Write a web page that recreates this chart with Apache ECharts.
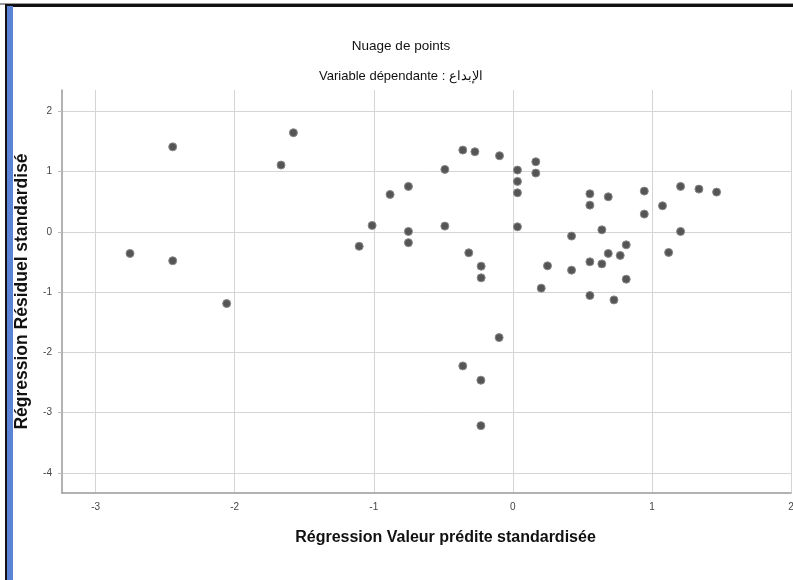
<!DOCTYPE html>
<html>
<head>
<meta charset="utf-8">
<script src="https://cdn.jsdelivr.net/npm/echarts@6/dist/echarts.min.js"></script>
<style>
html,body{margin:0;padding:0;background:#fff;}
#chart{width:793px;height:580px;}
</style>
</head>
<body>
<div id="chart"></div>
<script>
// Predicted standardized values (x) and standardized residuals (y)
const predicted = [
  -2.446, -1.578, -1.667, -2.753, -2.446, -2.058, -1.105,
  -1.012, -0.883, -0.751, -0.751, -0.751, -0.489, -0.489, -0.36, -0.273, -0.096,
  -0.317, -0.228, -0.228, 0.033, 0.033, 0.033, 0.033, 0.165, 0.165, 0.249, 0.204,
  0.422, 0.422, 0.554, 0.554, 0.686, 0.64, 0.554, 0.64, 0.686, 0.772, 0.815, 0.815,
  0.554, 0.727,
  0.945, 0.945, 1.076, 1.206, 1.338, 1.465, 1.206, 1.12,
  -0.099, -0.36, -0.23, -0.23
];
const residuals = [
  1.41, 1.645, 1.108, -0.359, -0.48, -1.19, -0.24,
  0.106, 0.62, 0.754, 0.006, -0.18, 1.036, 0.095, 1.357, 1.329, 1.263,
  -0.348, -0.57, -0.764, 1.025, 0.837, 0.648, 0.083, 1.163, 0.975, -0.565, -0.935,
  -0.071, -0.636, 0.631, 0.443, 0.581, 0.033, -0.498, -0.532, -0.359, -0.392, -0.216, -0.786,
  -1.057, -1.13,
  0.676, 0.294, 0.432, 0.754, 0.709, 0.659, 0.006, -0.343,
  -1.755, -2.226, -2.463, -3.217
];
const xTicks = [-3, -2, -1, 0, 1, 2];
const yTicks = [-4, -3, -2, -1, 0, 1, 2];

const titleText = 'Nuage de points';
const subtitleText = 'Variable dépendante : الإبداع';
const xName = 'Régression Valeur prédite standardisée';
const yName = 'Régression Résiduel standardisé';

const points = predicted.map((v, i) => [v, residuals[i]]);

const chart = echarts.init(document.getElementById('chart'), null, {renderer: 'canvas'});
const font = 'Liberation Sans, Arial, sans-serif';
chart.setOption({
  backgroundColor: '#fff',
  animation: false,
  graphic: [
    {type: 'rect', shape: {x: 0, y: 3, width: 793, height: 2}, style: {fill: '#999'}},
    {type: 'rect', shape: {x: 5, y: 4, width: 788, height: 3}, style: {fill: '#111'}},
    {type: 'rect', shape: {x: 5, y: 4, width: 2, height: 576}, style: {fill: '#111'}},
    {type: 'rect', shape: {x: 7, y: 6, width: 6, height: 574}, style: {fill: '#5b84d6'}},
    {type: 'text', x: 401, y: 46, style: {text: titleText, font: '13.5px ' + font, fill: '#111', align: 'center', verticalAlign: 'middle'}, z: 10},
    {type: 'text', x: 401, y: 76, style: {text: subtitleText, font: '13px ' + font, fill: '#111', align: 'center', verticalAlign: 'middle'}, z: 10}
  ],
  grid: {left: 62, right: 2, top: 90, bottom: 87, containLabel: false, outerBoundsMode: 'none'},
  xAxis: {
    type: 'value',
    min: -3.242, max: 2.0,
    name: xName,
    nameLocation: 'middle',
    nameGap: 37,
    nameTextStyle: {fontFamily: font, fontSize: 16, fontWeight: 'bold', color: '#111', padding: [0, 0, 0, 38]},
    axisLine: {show: true, onZero: false, lineStyle: {color: '#999', width: 1.5}},
    axisTick: {show: false, customValues: xTicks},
    axisLabel: {customValues: xTicks, color: '#444', fontFamily: font, fontSize: 10, margin: 9},
    splitLine: {show: true, lineStyle: {color: '#d4d4d4', width: 1}}
  },
  yAxis: {
    type: 'value',
    min: -4.335, max: 2.354,
    name: yName,
    nameLocation: 'middle',
    nameGap: 31,
    nameRotate: 90,
    nameTextStyle: {fontFamily: font, fontSize: 17.5, fontWeight: 'bold', color: '#111'},
    axisLine: {show: true, onZero: false, lineStyle: {color: '#999', width: 1.5}},
    axisTick: {show: true, customValues: yTicks, length: 4, lineStyle: {color: '#bbb'}},
    axisLabel: {customValues: yTicks, color: '#444', fontFamily: font, fontSize: 10, margin: 10},
    splitLine: {show: true, lineStyle: {color: '#d4d4d4', width: 1}}
  },
  series: [{
    type: 'scatter',
    data: points,
    symbol: 'circle',
    symbolSize: 8,
    itemStyle: {color: '#555', borderColor: '#888', borderWidth: 1, opacity: 1}
  }]
});
</script>
</body>
</html>
